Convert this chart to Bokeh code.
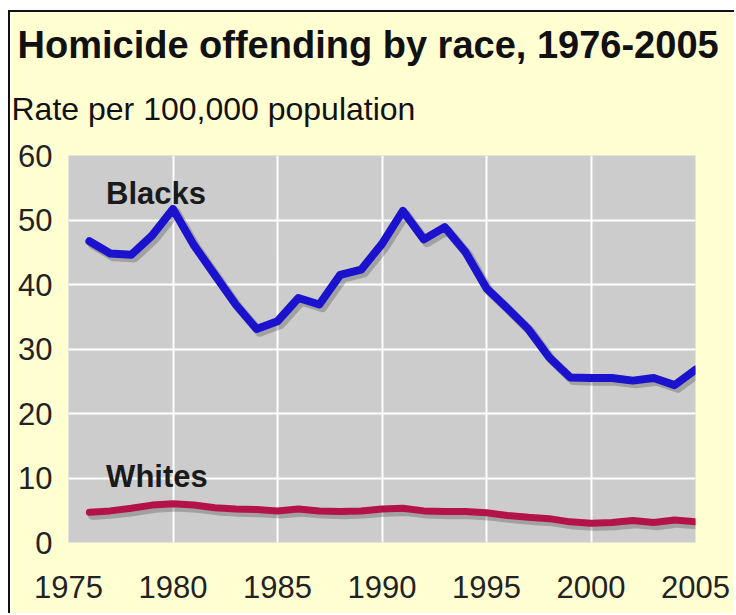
from bokeh.plotting import figure
from bokeh.models import Title, Label, FixedTicker, Range1d
from bokeh.embed import file_html
from bokeh.resources import INLINE

years = list(range(1976, 2006))
blacks = [46.7, 44.8, 44.6, 47.6, 51.7, 46.1, 41.5, 36.9, 33.1, 34.3,
          37.9, 36.9, 41.5, 42.3, 46.3, 51.4, 47.0, 48.9, 45.0, 39.4,
          36.3, 33.1, 28.7, 25.6, 25.5, 25.5, 25.1, 25.5, 24.4, 26.8]
whites = [4.7, 4.9, 5.3, 5.8, 6.0, 5.8, 5.4, 5.2, 5.1, 4.9,
          5.2, 4.9, 4.8, 4.9, 5.2, 5.3, 4.9, 4.8, 4.8, 4.6,
          4.2, 3.9, 3.7, 3.2, 3.0, 3.1, 3.4, 3.1, 3.5, 3.2]
x_ticks = [1975, 1980, 1985, 1990, 1995, 2000, 2005]
y_ticks = [0, 10, 20, 30, 40, 50, 60]

title_text = "Homicide offending by race, 1976-2005"
subtitle_text = "Rate per 100,000 population"

FONT = "Liberation Sans"
BG = "#FFFFD2"

p = figure(width=726, height=603, output_backend="svg", toolbar_location=None,
           x_range=Range1d(1975, 2005), y_range=Range1d(0, 60),
           min_border_left=58, min_border_right=41,
           min_border_top=143, min_border_bottom=73)
p.styles = {"border-left": "2px solid #111111", "border-top": "2px solid #111111",
            "margin-top": "10px", "margin-left": "8px"}

# ranges shifted a few pixels, used only for the soft drop shadow under the lines
p.extra_x_ranges = {"shadow": Range1d(1975 - 0.15, 2005 - 0.15)}
p.extra_y_ranges = {"shadow": Range1d(0 + 0.5, 60 + 0.5)}

p.background_fill_color = "#CCCCCC"
p.border_fill_color = BG
p.outline_line_color = None

p.title.text = title_text
p.title.text_font = FONT
p.title.text_font_size = "38px"
p.title.text_font_style = "bold"
p.title.text_color = "#111111"
p.title.offset = -51
p.title.standoff = -11

sub = Title(text=subtitle_text, text_font=FONT, text_font_size="32px",
            text_font_style="normal", text_color="#111111", offset=-57, standoff=57)
p.add_layout(sub, "above")

for ax in (p.xaxis, p.yaxis):
    ax.axis_line_color = None
    ax.major_tick_line_color = None
    ax.minor_tick_line_color = None
    ax.major_label_text_font = FONT
    ax.major_label_text_font_size = "31px"
    ax.major_label_text_color = "#222222"
p.xaxis.ticker = FixedTicker(ticks=x_ticks)
p.yaxis.ticker = FixedTicker(ticks=y_ticks)
p.xaxis.major_label_standoff = 27
p.yaxis.major_label_standoff = 10

p.xgrid.ticker = FixedTicker(ticks=x_ticks)
p.ygrid.ticker = FixedTicker(ticks=y_ticks)
for g in (p.xgrid, p.ygrid):
    g.grid_line_color = "white"
    g.grid_line_width = 2

for series in (whites, blacks):
    p.line(years, series, line_width=9, line_color="#333333", line_alpha=0.28,
           line_join="round", line_cap="round",
           x_range_name="shadow", y_range_name="shadow")

p.line(years, whites, line_width=7, line_color="#B4134A", line_join="round", line_cap="round")
p.line(years, blacks, line_width=8, line_color="#1A12CC", line_join="round", line_cap="round")

p.add_layout(Label(x=1976.8, y=54.1, text="Blacks", text_font=FONT, text_font_size="31px",
                   text_font_style="bold", text_color="#1A1A1A", text_baseline="alphabetic"))
p.add_layout(Label(x=1976.8, y=10.2, text="Whites", text_font=FONT, text_font_size="31px",
                   text_font_style="bold", text_color="#1A1A1A", text_baseline="alphabetic"))

open("out.html", "w").write(file_html(p, INLINE))
